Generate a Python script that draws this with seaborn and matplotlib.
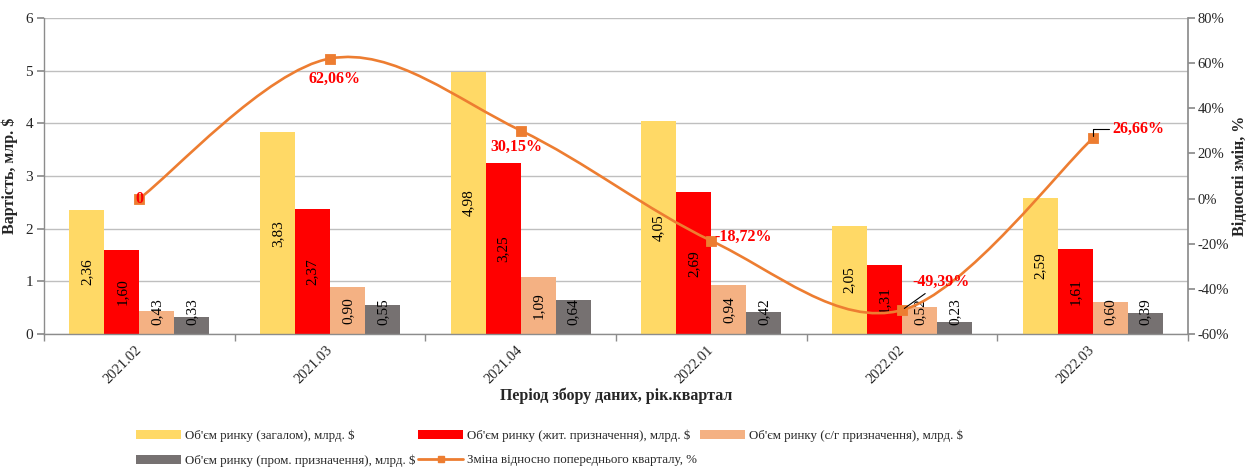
import numpy as np
import pandas as pd
import matplotlib
matplotlib.use("Agg")
import matplotlib.pyplot as plt
import seaborn as sns
from matplotlib.path import Path
from matplotlib.patches import PathPatch, Patch
from matplotlib.lines import Line2D
from matplotlib.ticker import FuncFormatter

# ---------------- data ----------------
periods = ["2021.02", "2021.03", "2021.04", "2022.01", "2022.02", "2022.03"]
total = [2.36, 3.83, 4.98, 4.05, 2.05, 2.59]
residential = [1.60, 2.37, 3.25, 2.69, 1.31, 1.61]
agricultural = [0.43, 0.90, 1.09, 0.94, 0.52, 0.60]
industrial = [0.33, 0.55, 0.64, 0.42, 0.23, 0.39]
change_pct = [0.0, 62.06, 30.15, -18.72, -49.39, 26.66]

series_names = [
    "Об'єм ринку (загалом), млрд. $",
    "Об'єм ринку (жит. призначення), млрд. $",
    "Об'єм ринку (с/г призначення), млрд. $",
    "Об'єм ринку (пром. призначення), млрд. $",
]
line_name = "Зміна відносно попереднього кварталу, %"
colors = ["#FFD966", "#FF0000", "#F4B183", "#767171"]
line_color = "#ED7D31"

# ---------------- style ----------------
sns.set_theme(style="white")
plt.rcParams["font.family"] = ["Liberation Serif", "DejaVu Serif"]

fig = plt.figure(figsize=(12.48, 4.68), dpi=100)
ax = fig.add_axes([0.0353, 0.2863, 0.9167, 0.6752])

df = pd.DataFrame({
    "period": np.repeat(periods, 4),
    "series": series_names * len(periods),
    "value": np.array([total, residential, agricultural, industrial]).T.ravel(),
})

sns.barplot(data=df, x="period", y="value", hue="series", hue_order=series_names,
            palette=colors, width=0.735, ax=ax, legend=False, saturation=1,
            edgecolor="none", linewidth=0)

ax.set_xlim(-0.5, len(periods) - 0.5)
ax.set_ylim(0, 6)
ax.set_yticks(range(0, 7))
ax.yaxis.grid(True, color="#BFBFBF", linewidth=1)
ax.set_axisbelow(True)

for s in ["top", "right"]:
    ax.spines[s].set_visible(False)
for s in ["left", "bottom"]:
    ax.spines[s].set_color("#8C8C8C")
    ax.spines[s].set_linewidth(1)

# x tick labels at centers (no marks); marks at boundaries
ax.set_xticks(range(len(periods)))
ax.set_xticklabels(periods, rotation=45, ha="right", va="center",
                   rotation_mode="anchor", fontsize=10.5)
ax.tick_params(axis="x", which="major", length=0, pad=10)
ax.set_xticks(np.arange(-0.5, len(periods), 1.0), minor=True)
ax.tick_params(axis="x", which="minor", length=5, color="#8C8C8C", direction="out", bottom=True)
ax.tick_params(axis="y", length=5, color="#8C8C8C", direction="out", labelsize=11, pad=3)

ax.set_xlabel("Період збору даних, рік.квартал", fontsize=11.5, fontweight="bold", labelpad=1)
ax.set_ylabel("Вартість, млр. $", fontsize=11.5, fontweight="bold", labelpad=5)

# bar value labels
for cont in ax.containers:
    for bar in cont:
        h = bar.get_height()
        xc = bar.get_x() + bar.get_width() / 2
        yc = max(h / 2, 0.42)
        ax.text(xc, yc, f"{h:.2f}".replace(".", ","), rotation=90,
                ha="center", va="center", fontsize=11, color="black")

# ---------------- secondary axis: change line ----------------
ax2 = ax.twinx()
ax2.set_ylim(-60, 80)
ax2.set_yticks(range(-60, 81, 20))
ax2.yaxis.set_major_formatter(FuncFormatter(lambda v, p: f"{int(v)}%"))
ax2.tick_params(axis="y", length=5, color="#8C8C8C", direction="out", labelsize=10.5, pad=2)
for s in ["top", "left", "bottom"]:
    ax2.spines[s].set_visible(False)
ax2.spines["right"].set_color("#8C8C8C")
ax2.set_ylabel("Відносні змін, %", fontsize=11.5, fontweight="bold", labelpad=2)
ax2.grid(False)

xs = np.arange(len(periods), dtype=float)
ys = np.array(change_pct, dtype=float)
# smoothed (Catmull-Rom style Bezier) path through the data points
verts = [(xs[0], ys[0])]
codes = [Path.MOVETO]
n = len(xs)
for i in range(n - 1):
    p0 = np.array([xs[max(i - 1, 0)], ys[max(i - 1, 0)]])
    p1 = np.array([xs[i], ys[i]])
    p2 = np.array([xs[i + 1], ys[i + 1]])
    p3 = np.array([xs[min(i + 2, n - 1)], ys[min(i + 2, n - 1)]])
    c1 = p1 + (p2 - p0) / 6.0
    c2 = p2 - (p3 - p1) / 6.0
    verts += [tuple(c1), tuple(c2), tuple(p2)]
    codes += [Path.CURVE4] * 3
ax2.add_patch(PathPatch(Path(verts, codes), facecolor="none",
                        edgecolor=line_color, linewidth=1.9, zorder=3))
sns.scatterplot(x=xs, y=ys, marker="s", s=55, color=line_color,
                edgecolor=line_color, ax=ax2, zorder=4, legend=False)

lab_kw = dict(color="#FF0000", fontsize=11.5, fontweight="bold", zorder=5)
ax2.annotate("0", (xs[0], ys[0]), ha="center", va="center", **lab_kw)
ax2.annotate("62,06%", (xs[1], ys[1]), xytext=(3, -15), textcoords="offset points",
             ha="center", va="center", **lab_kw)
ax2.annotate("30,15%", (xs[2], ys[2]), xytext=(-3, -12), textcoords="offset points",
             ha="center", va="center", **lab_kw)
ax2.annotate("-18,72%", (xs[3], ys[3]), xytext=(2, 3), textcoords="offset points",
             ha="left", va="center", **lab_kw)
ax2.annotate("-49,39%", (xs[4], ys[4]), xytext=(28, 20), textcoords="offset points",
             ha="center", va="center",
             arrowprops=dict(arrowstyle="-", color="black", lw=0.8, shrinkA=0, shrinkB=2),
             **lab_kw)
ax2.annotate("26,66%", (xs[5], ys[5]), xytext=(14, 7), textcoords="offset points",
             ha="left", va="center",
             arrowprops=dict(arrowstyle="-", color="black", lw=0.8, shrinkA=0, shrinkB=2,
                             connectionstyle="angle,angleA=0,angleB=90,rad=0"),
             **lab_kw)

# ---------------- legend ----------------
h = [Patch(facecolor=c, edgecolor="none") for c in colors]
hl = Line2D([], [], color=line_color, lw=2.0, marker="s", markersize=5)
handles = [h[0], h[3], h[1], hl, h[2]]
labels = [series_names[0], series_names[3], series_names[1], line_name, series_names[2]]
fig.legend(handles, labels, loc="upper left", bbox_to_anchor=(0.105, 0.093),
           ncol=3, frameon=False, fontsize=9.3, handlelength=3.5, handleheight=0.7,
           handletextpad=0.3, columnspacing=0.2, labelspacing=0.95, borderaxespad=0)

fig.savefig("out.png", dpi=100, facecolor="white")
